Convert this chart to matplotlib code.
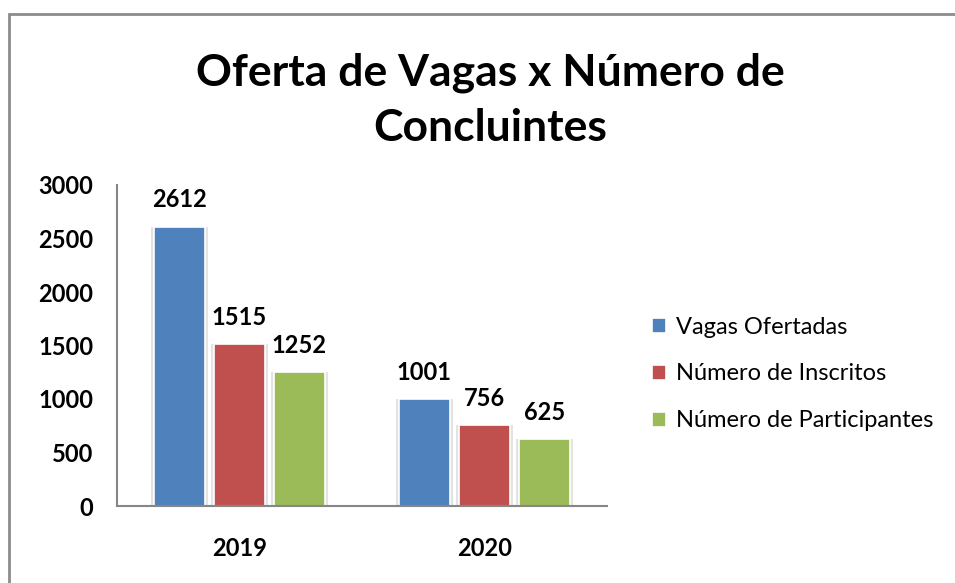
import matplotlib.pyplot as plt
import numpy as np
from matplotlib.patches import Rectangle

plt.rcParams['font.family'] = ['Lato', 'DejaVu Sans']

years = ['2019', '2020']
series_names = ['Vagas Ofertadas', 'Número de Inscritos', 'Número de Participantes']
vagas = [2612, 1001]
inscritos = [1515, 756]
participantes = [1252, 625]
colors = ['#4F81BD', '#C0504D', '#9BBB59']

W, H = 955, 583
fig = plt.figure(figsize=(W / 100, H / 100), dpi=100)
ax = fig.add_axes([117 / W, (H - 506) / H, (607 - 117) / W, (506 - 185) / H])

x = np.arange(len(years))
width = 0.205
pitch = 0.245
for i, (vals, col) in enumerate(zip([vagas, inscritos, participantes], colors)):
    pos = x + (i - 1) * pitch
    # soft gray halo behind the bar
    ax.bar(pos, vals, width + 0.03, color='#e3e3e3', zorder=1)
    ax.bar(pos, vals, width, color=col, edgecolor='white', linewidth=1.2,
           label=series_names[i], zorder=2)
    for p, v in zip(pos, vals):
        ax.text(p, v + 250, str(v), ha='center', va='center',
                fontsize=17, fontweight='bold', zorder=3)

ax.set_xlim(-0.5, 1.5)
ax.set_ylim(0, 3000)
ax.set_yticks(range(0, 3001, 500))
ax.set_xticks(x)
ax.set_xticklabels(years)
ax.tick_params(axis='both', length=0, labelsize=17)
ax.tick_params(axis='y', pad=17)
ax.tick_params(axis='x', pad=22)
for lbl in ax.get_xticklabels() + ax.get_yticklabels():
    lbl.set_fontweight('bold')
for s in ['top', 'right']:
    ax.spines[s].set_visible(False)
for s in ['left', 'bottom']:
    ax.spines[s].set_color('#868686')
    ax.spines[s].set_linewidth(1.5)

fig.text(490 / W, 1 - 100 / H, 'Oferta de Vagas x Número de\nConcluintes',
         ha='center', va='center', fontsize=32, fontweight='bold',
         linespacing=1.45)

handles, labels = ax.get_legend_handles_labels()
fig.legend(handles, labels, loc='center left', bbox_to_anchor=(631 / W, 1 - 374 / H),
           frameon=False, fontsize=17, handlelength=0.6, handleheight=0.6,
           handletextpad=0.4, labelspacing=1.1)

fig.patches.append(Rectangle((9 / W, -0.1), 1.2, 1 - 14 / H + 0.1,
                             transform=fig.transFigure, fill=False,
                             edgecolor='#8c8c8c', linewidth=2))

fig.savefig('out.png', dpi=100)
